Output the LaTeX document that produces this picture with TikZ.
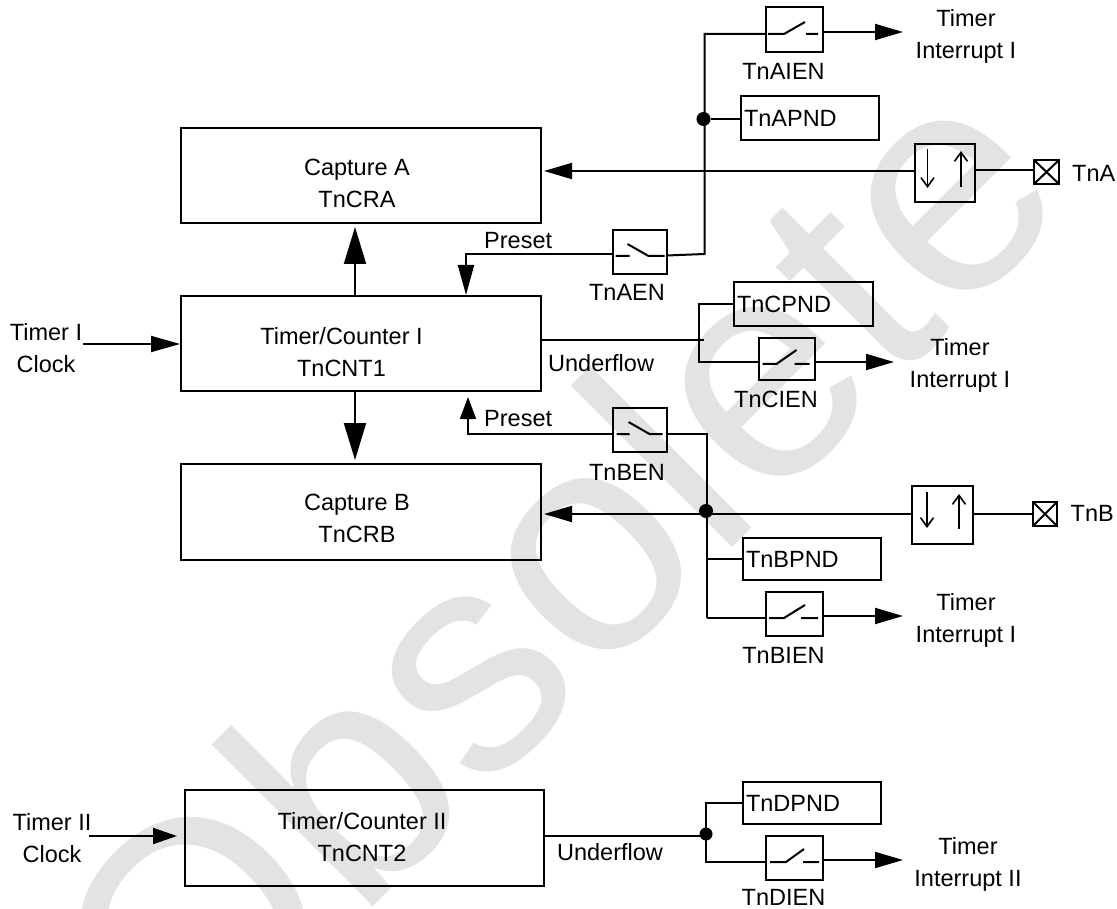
\documentclass[tikz,border=0pt]{standalone}
\usepackage{fontspec}
\setmainfont{Liberation Sans}
\usetikzlibrary{arrows.meta}
\tikzset{
  x=1pt,y=-1pt,
  wire/.style={line width=2pt},
  blockbox/.style={draw,line width=2pt,inner sep=0pt,outer sep=0pt,align=center},
  lbl/.style={inner sep=0pt,align=center},
  bigtip/.style={line width=2pt,-{Triangle[length=#1pt,width=16pt]}},
  bigtip/.default=28,
  hugetip/.style={line width=2pt,-{Triangle[length=37pt,width=22pt]}},
  thin tip/.style={line width=1.6pt,-{Straight Barb[length=9pt,width=13pt,line width=1.6pt]}},
  dot/.style={circle,fill=black,minimum size=14pt,inner sep=0pt},
}
\newcommand{\bx}[6]{% name, x1,y1,x2,y2, text (left aligned)
  \node[blockbox,minimum width={(#4)-(#2)},minimum height={(#5)-(#3)},
        text width={(#4)-(#2)-6},inner xsep=3pt,align=left] (#1)
        at ({((#2)+(#4))/2},{((#3)+(#5))/2}) {\raisebox{-1.5pt}{#6}};}
\begin{document}
\begin{tikzpicture}[font=\fontsize{23.5}{32}\selectfont]
\useasboundingbox (0,0) rectangle (1117,909);
% watermark
\node[lbl,text=black!11,rotate=45,font=\fontsize{315}{315}\selectfont] (wm) at (551,569) {Obsolete};
% main blocks
\bx{capA}{181}{128}{541}{223}{}
\bx{cntI}{181}{296}{541}{391}{}
\bx{capB}{181}{464}{541}{560}{}
\bx{cntII}{185}{790}{544}{886}{}
\node[lbl] (capAt) at (357,183) {Capture A\\TnCRA};
\node[lbl] (cntIt) at (341.5,352) {Timer/Counter I\\TnCNT1};
\node[lbl] (capBt) at (357,518.5) {Capture B\\TnCRB};
\node[lbl] (cntIIt) at (362,837) {Timer/Counter II\\TnCNT2};
% pending flags
\bx{aPnd}{741}{96}{879}{140}{TnAPND}
\bx{cPnd}{734}{282}{873}{326}{TnCPND}
\bx{bPnd}{743}{538}{881}{580}{TnBPND}
\bx{dPnd}{743}{782}{881}{824}{TnDPND}
% switches
\bx{swAI}{766}{7}{823}{52}{}
\bx{swA}{612.5}{230}{667}{274}{}
\bx{swCI}{758.5}{338}{815}{380}{}
\bx{swB}{612.5}{408}{667}{452}{}
\bx{swBI}{766}{592}{823}{636}{}
\bx{swDI}{766}{836}{823}{880}{}
% edge selectors
\bx{edgeA}{914.5}{144}{975}{202}{}
\bx{edgeB}{912}{486}{973}{544}{}
% pins
\bx{pinA}{1034}{160}{1059}{184}{}
\bx{pinB}{1033}{502}{1057}{526}{}
\draw[wire] (pinA.north west) -- (pinA.south east) (pinA.north east) -- (pinA.south west);
\draw[wire] (pinB.north west) -- (pinB.south east) (pinB.north east) -- (pinB.south west);
% switch contacts
\draw[wire] (768,34) -- (784,34) -- (805,22) (806,34) -- (818,34);
\draw[wire] (615.5,256) -- (629.5,256) (627.5,244) -- (648.5,256) -- (664.5,256);
\draw[wire] (762.5,364) -- (776.5,364) -- (796.5,350) (794.5,364) -- (809.5,364);
\draw[wire] (616.5,434) -- (629.5,434) (628.5,422) -- (649.5,434) -- (662.5,434);
\draw[wire] (769,618) -- (784,618) -- (805,605) (801,618) -- (818,618);
\draw[wire] (770,862) -- (786,862) -- (804,849) (803,862) -- (819,862);
% edge arrows
\draw[thin tip] (927.5,149) -- (927.5,188);
\draw[thin tip] (961,187) -- (961,151);
\draw[thin tip] (927,492) -- (927,528);
\draw[thin tip] (959,529) -- (959,494);
% junctions and bends
\node[dot] (jA) at (703.5,119) {};
\node[dot] (jB) at (706,511) {};
\node[dot,minimum size=13pt] (jD) at (706,834) {};
\coordinate (aTop) at (704.5,34);
\coordinate (aBot) at (704.5,254);
\coordinate (aBent) at (466,254);
\coordinate (cEnd) at (704,340);
\coordinate (cBus) at (699,304);
\coordinate (bTop) at (707,434);
\coordinate (bBot) at (707,618);
\coordinate (bBent) at (468,434);
\coordinate (clkI) at (83,344);
\coordinate (clkII) at (89,836);
\coordinate (tipCapA) at (544,171);
\coordinate (tipCapB) at (544,514);
% channel A wiring
\draw[wire] (swA.east |- 0,255.5) -- (aBot) -- (aTop) -- (aTop -| swAI.west);
\draw[wire] (jA) -- (jA -| aPnd.west);
\draw[bigtip] (swAI.east |- 0,32) -- (903,32);
\draw[bigtip] (edgeA.west |- tipCapA) -- (tipCapA);
\draw[wire] (edgeA.east |- 0,170) -- (pinA.west |- 0,170);
\draw[bigtip=30] (swA.west |- aBent) -- (aBent) -- (466,295);
% counter to captures
\draw[hugetip] (355,296) -- (355,227);
\draw[hugetip] (355,391) -- (355,460);
\draw[bigtip=29] (clkI) -- (180,344);
% channel C wiring
\draw[wire] (cntI.east |- cEnd) -- (cEnd);
\draw[wire] (cPnd.west) -- (cBus) -- (699,362) -- (swCI.west |- 0,362);
\draw[bigtip] (swCI.east |- 0,362) -- (894,362);
% channel B wiring
\draw[bigtip=22] (swB.west |- bBent) -- (bBent) -- (468,397);
\draw[wire] (swB.east |- bTop) -- (bTop) -- (bBot);
\draw[bigtip] (edgeB.west |- tipCapB) -- (tipCapB);
\draw[wire] (edgeB.east |- 0,514) -- (pinB.west |- 0,514);
\draw[wire] (bPnd.west) -- (bPnd.west -| bTop);
\draw[wire] (bBot) -- (swBI.west |- bBot);
\draw[bigtip] (swBI.east |- 0,616) -- (903,616);
% counter II wiring
\draw[bigtip=24] (clkII) -- (177,836);
\draw[wire] (cntII.east |- 0,836) -- (jD |- 0,836);
\draw[wire] (dPnd.west) -- (706,803) -- (706,862) -- (swDI.west |- 0,862);
\draw[bigtip] (swDI.east |- 0,860) -- (903,860);
% labels
\node[lbl] (tAI) at (966,36.5) {Timer\\Interrupt I};
\node[lbl] (nAI) at (783.5,71) {TnAIEN};
\node[lbl,anchor=west] (nA) at (1072,173) {TnA};
\node[lbl,anchor=west] (pA) at (484,241) {Preset};
\node[lbl] (nAE) at (627,292) {TnAEN};
\node[lbl] (clI) at (46,348) {Timer I\\Clock};
\node[lbl,anchor=west] (uI) at (548,363) {Underflow};
\node[lbl] (tCI) at (960,365) {Timer\\Interrupt I};
\node[lbl] (nCI) at (776,399) {TnCIEN};
\node[lbl,anchor=west] (pB) at (484,419) {Preset};
\node[lbl] (nBE) at (627,472.5) {TnBEN};
\node[lbl,anchor=west] (nB) at (1070.5,513) {TnB};
\node[lbl] (tBI) at (966,620) {Timer\\Interrupt I};
\node[lbl] (nBI) at (783.5,655) {TnBIEN};
\node[lbl] (clII) at (52,838) {Timer II\\Clock};
\node[lbl] (uII) at (610,852) {Underflow};
\node[lbl] (tDI) at (968,864) {Timer\\Interrupt II};
\node[lbl] (nDI) at (783.5,897) {TnDIEN};
\end{tikzpicture}
\end{document}
